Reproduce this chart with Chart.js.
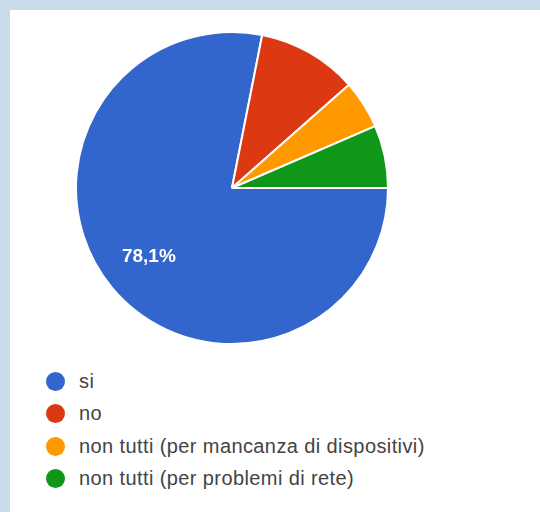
<!DOCTYPE html>
<html>
<head>
<meta charset="utf-8">
<script src="https://cdn.jsdelivr.net/npm/chart.js@4/dist/chart.umd.min.js"></script>
<style>
  html, body { margin: 0; padding: 0; }
  body {
    width: 540px; height: 512px; overflow: hidden;
    background: #c9dbe7;
    font-family: "Liberation Sans", Arial, sans-serif;
  }
  #panel {
    position: absolute; left: 10px; top: 10px; right: 0; bottom: 0;
    background: #fff;
  }
  #pie { position: absolute; left: 65px; top: 21px; }
  #legend {
    position: absolute; left: 36px; top: 355px;
    margin: 0; padding: 0; list-style: none;
  }
  #legend li {
    height: 32.5px; display: flex; align-items: center;
    font-size: 20px; letter-spacing: 0.4px; color: #444;
  }
  #legend .dot {
    width: 19px; height: 19px; border-radius: 50%;
    margin-right: 14px; flex: none;
  }
</style>
</head>
<body>
<div id="panel">
  <canvas id="pie" width="314" height="314"></canvas>
  <ul id="legend"></ul>
</div>
<script>
// risposte
const labels = [
  'si',
  'no',
  'non tutti (per mancanza di dispositivi)',
  'non tutti (per problemi di rete)'
];
const values = [78.1, 10.4, 5.0, 6.5];
const colors = ['#3366cc', '#dc3912', '#ff9900', '#109618'];

// percentuale dentro la fetta, solo se c'e' spazio
const sliceText = {
  id: 'sliceText',
  afterDatasetsDraw(chart) {
    const ctx = chart.ctx;
    const meta = chart.getDatasetMeta(0);
    const data = chart.data.datasets[0].data;
    const total = data.reduce((a, b) => a + b, 0);
    ctx.save();
    ctx.fillStyle = '#fff';
    ctx.font = 'bold 19px "Liberation Sans", Arial, sans-serif';
    ctx.textAlign = 'center';
    ctx.textBaseline = 'middle';
    meta.data.forEach((arc, i) => {
      const pct = data[i] / total * 100;
      if (pct < 20) return;
      const p = arc.getProps(['x', 'y', 'startAngle', 'endAngle', 'outerRadius'], true);
      const mid = (p.startAngle + p.endAngle) / 2;
      const r = p.outerRadius * 0.69;
      ctx.fillText(pct.toFixed(1).replace('.', ',') + '%',
        p.x + Math.cos(mid) * r, p.y + Math.sin(mid) * r);
    });
    ctx.restore();
  }
};

const pieChart = new Chart(document.getElementById('pie'), {
  type: 'pie',
  data: {
    labels: labels,
    datasets: [{
      data: values,
      backgroundColor: colors,
      borderColor: '#fff',
      borderWidth: 2
    }]
  },
  options: {
    responsive: false,
    animation: false,
    rotation: 90,
    plugins: {
      legend: { display: false },
      tooltip: { enabled: false }
    }
  },
  plugins: [sliceText]
});

// legenda
const legend = document.getElementById('legend');
labels.forEach((lab, i) => {
  const li = document.createElement('li');
  const dot = document.createElement('span');
  dot.className = 'dot';
  dot.style.background = colors[i];
  li.appendChild(dot);
  li.appendChild(document.createTextNode(lab));
  legend.appendChild(li);
});
</script>
</body>
</html>
